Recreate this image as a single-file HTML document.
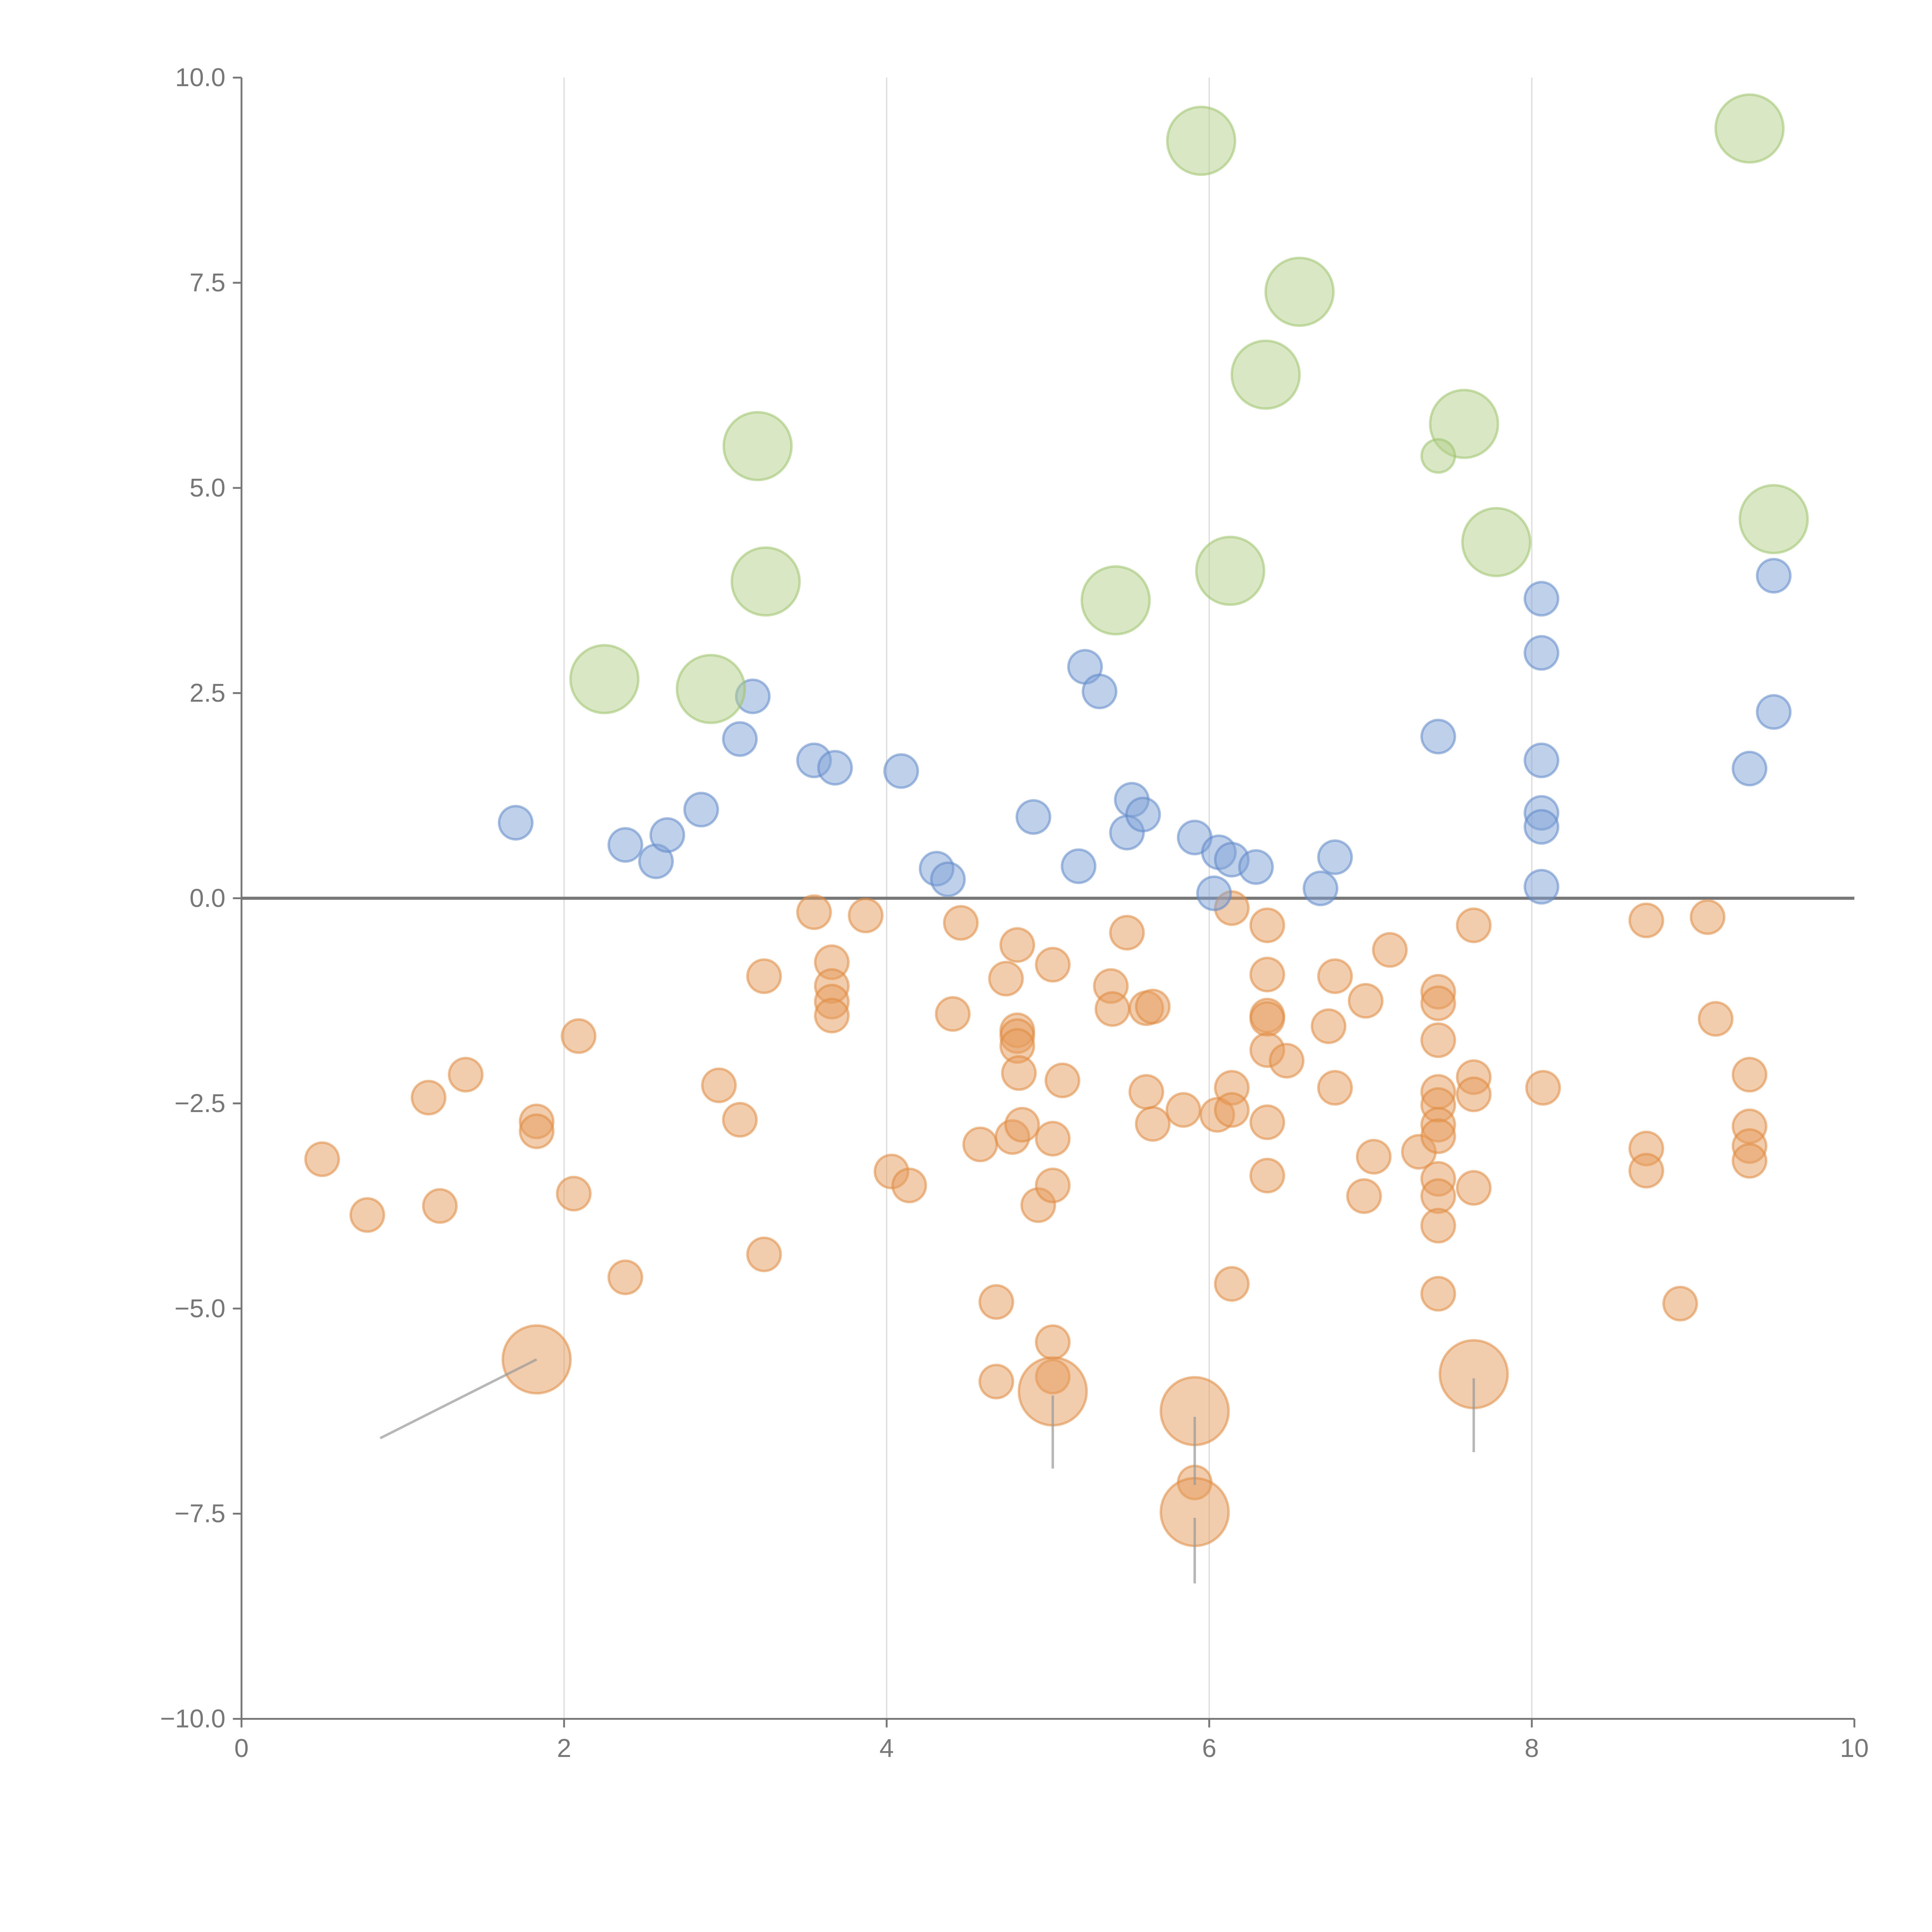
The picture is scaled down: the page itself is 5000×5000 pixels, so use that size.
<!DOCTYPE html>
<html><head><meta charset="utf-8"><style>
html,body{margin:0;padding:0;background:#fff;}
svg{display:block;}
text{font-family:"Liberation Sans",sans-serif;fill:#777;}
</style></head><body>
<svg id="chart" width="5000" height="5000" viewBox="0 0 1568 1568" xmlns="http://www.w3.org/2000/svg">
<g id="grid"></g>
<g id="axes"></g>
<g id="marks"></g>
</svg>
<script>
const xTicks=[0,2,4,6,8,10];
const xTickLabels=["0","2","4","6","8","10"];
const yTicks=[10,7.5,5,2.5,0,-2.5,-5,-7.5,-10];
const yTickLabels=["10.0","7.5","5.0","2.5","0.0","\u22122.5","\u22125.0","\u22127.5","\u221210.0"];

const greenX=[5.95,9.35,6.56,6.35,3.20,7.58,9.50,7.78,6.13,3.25,5.42,2.25,2.91,7.42];
const greenY=[9.23,9.38,7.39,6.38,5.51,5.78,4.62,4.34,3.99,3.86,3.63,2.67,2.55,5.39];
const greenS=[2,2,2,2,2,2,2,2,2,2,2,2,2,1];

const blueX=[1.70,2.38,2.57,2.64,2.85,3.09,3.17,3.55,3.68,4.09,4.31,4.38,4.91,5.19,5.23,5.32,5.49,5.52,5.59,5.91,6.03,6.06,6.14,6.29,6.69,6.78,7.42,8.06,8.06,8.06,8.06,8.06,8.06,9.50,9.50,9.35];
const blueY=[0.92,0.65,0.45,0.77,1.08,1.94,2.46,1.68,1.59,1.55,0.36,0.23,0.99,0.39,2.82,2.52,0.80,1.20,1.02,0.74,0.06,0.56,0.47,0.38,0.12,0.50,1.97,3.65,2.99,1.68,1.04,0.87,0.14,3.93,2.27,1.58];

const orangeX=[0.50,0.78,1.16,1.23,1.39,1.83,1.83,2.06,2.09,2.38,2.96,3.09,3.24,3.24,3.55,3.66,3.66,3.66,3.66,3.87,4.03,4.14,4.41,4.46,4.58,4.68,4.68,4.74,4.78,4.81,4.81,4.81,4.81,4.82,4.84,4.94,5.03,5.03,5.03,5.03,5.03,5.09,5.39,5.40,5.49,5.61,5.61,5.65,5.65,5.84,5.91,6.05,6.14,6.14,6.14,6.14,6.36,6.36,6.36,6.36,6.36,6.36,6.36,6.48,6.74,6.78,6.78,6.97,6.96,7.02,7.12,7.30,7.42,7.42,7.42,7.42,7.42,7.42,7.42,7.42,7.42,7.42,7.42,7.64,7.64,7.64,7.64,8.07,8.71,8.71,8.71,8.92,9.09,9.14,9.35,9.35,9.35,9.35,1.83,5.03,5.91,5.91,7.64];
const orangeY=[-3.18,-3.86,-2.43,-3.75,-2.15,-2.72,-2.84,-3.60,-1.68,-4.62,-2.28,-2.70,-0.95,-4.34,-0.17,-0.78,-1.07,-1.26,-1.43,-0.21,-3.33,-3.50,-1.41,-0.30,-3.00,-4.92,-5.89,-0.98,-2.91,-0.57,-1.61,-1.68,-1.80,-2.13,-2.76,-3.74,-0.81,-2.93,-3.50,-5.41,-5.83,-2.22,-1.07,-1.35,-0.42,-1.34,-2.36,-1.32,-2.75,-2.58,-7.12,-2.64,-0.12,-2.31,-2.58,-4.70,-0.33,-0.93,-1.43,-1.47,-1.85,-2.73,-3.38,-1.98,-1.56,-0.95,-2.31,-1.25,-3.63,-3.15,-0.63,-3.09,-1.14,-1.28,-1.73,-2.36,-2.52,-2.76,-2.90,-3.42,-3.63,-3.99,-4.82,-0.33,-2.18,-2.39,-3.53,-2.31,-0.27,-3.05,-3.32,-4.94,-0.23,-1.47,-2.15,-2.78,-3.02,-3.20,-5.62,-6.01,-6.25,-7.48,-5.80];
const orangeS=orangeX.map((v,i)=>i>=orangeX.length-5?2:1);

const annoX1=[1.83,5.03,5.91,5.91,7.64];
const annoY1=[-5.62,-6.06,-6.32,-7.55,-5.85];
const annoX2=[0.86,5.03,5.91,5.91,7.64];
const annoY2=[-6.58,-6.95,-7.15,-8.35,-6.75];

const L=196,R=1505,T=63,B=1395;
const sx=v=>L+(v-0)/(10-0)*(R-L);
const sy=v=>T+(10-v)/20*(B-T);
const NS="http://www.w3.org/2000/svg";
function mk(tag,attrs,parent){const e=document.createElementNS(NS,tag);for(const k in attrs)e.setAttribute(k,attrs[k]);parent.appendChild(e);return e;}
const grid=document.getElementById('grid'),axes=document.getElementById('axes'),marks=document.getElementById('marks');

xTicks.forEach((t,i)=>{
 if(t>0&&t<10){const g=mk('line',{x1:sx(t),x2:sx(t),y1:T,y2:B,stroke:'#dcdcdc','stroke-width':1},grid);
 
 }
 const tk=mk('line',{x1:sx(t),x2:sx(t),y1:B,y2:B+7,stroke:'#777','stroke-width':1.5},axes);
 
 
 const tx=mk('text',{x:sx(t),y:B+31,'text-anchor':'middle','font-size':21},axes);
 tx.textContent=xTickLabels[i];
 
 
});
yTicks.forEach((t,i)=>{
 const tk=mk('line',{x1:L-7,x2:L,y1:sy(t),y2:sy(t),stroke:'#777','stroke-width':1.5},axes);
 
 
 const tx=mk('text',{x:L-13,y:sy(t)+7,'text-anchor':'end','font-size':21},axes);
 tx.textContent=yTickLabels[i];
 
 
});
const ya=mk('line',{x1:L,x2:L,y1:T,y2:B,stroke:'#777','stroke-width':1.5},axes);


const xa=mk('line',{x1:L,x2:R,y1:B,y2:B,stroke:'#777','stroke-width':1.5},axes);


const zl=mk('line',{x1:L,x2:R,y1:sy(0),y2:sy(0),stroke:'#777','stroke-width':2.5},axes);



function series(X,Y,S,fill,stroke,name){
 X.forEach((x,i)=>{
  const r=S[i]===2?27.5:13.5;
  const c=mk('circle',{cx:sx(x),cy:sy(Y[i]),r:r,fill:fill,'fill-opacity':0.5,stroke:stroke,'stroke-opacity':0.55,'stroke-width':2},marks);
  
  
 });
}
series(orangeX,orangeY,orangeS,'#e59b5c','#e08a40','orange-bubble');
series(blueX,blueY,blueX.map(()=>1),'#7fa2d6','#5f88c8','blue-bubble');
series(greenX,greenY,greenS,'#b4d08c','#9cc26a','green-bubble');
annoX1.forEach((x,i)=>{
 const l=mk('line',{x1:sx(x),y1:sy(annoY1[i]),x2:sx(annoX2[i]),y2:sy(annoY2[i]),stroke:'#999','stroke-opacity':0.7,'stroke-width':2},marks);
 
 
});
</script>
</body></html>
